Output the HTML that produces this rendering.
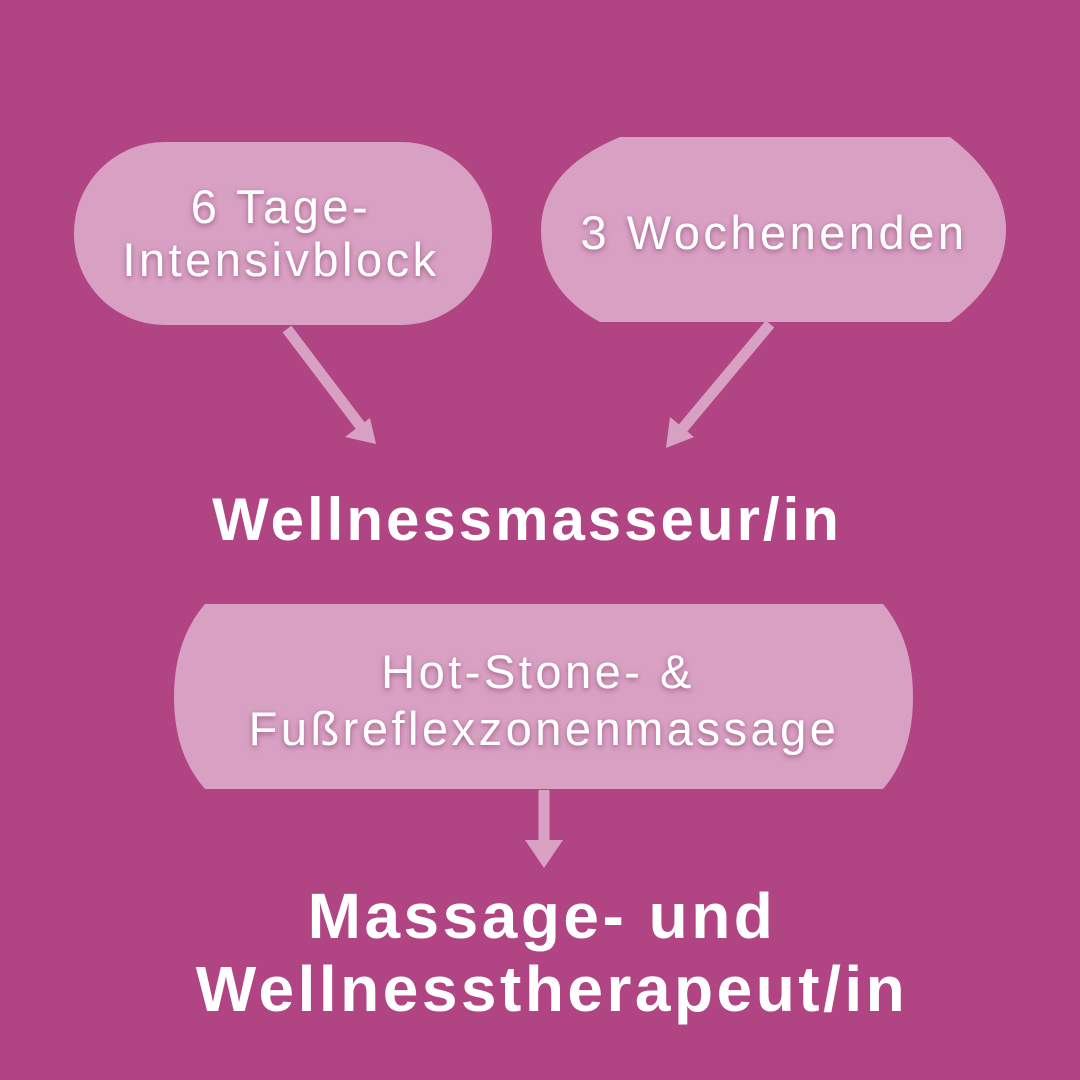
<!DOCTYPE html>
<html><head><meta charset="utf-8"><style>
html,body{margin:0;padding:0;width:1080px;height:1080px;overflow:hidden;background:#b14584}
svg{display:block}
text{font-family:"Liberation Sans",sans-serif;fill:#fff}
.n{font-size:47px;letter-spacing:3.5px;filter:url(#sh)}
.b{font-size:60px;font-weight:bold;letter-spacing:3px}
.c{font-size:64px;font-weight:bold;letter-spacing:3.5px}
</style></head><body>
<svg width="1080" height="1080" viewBox="0 0 1080 1080">
<defs>
<filter id="sh" x="-10%" y="-30%" width="120%" height="160%"><feDropShadow dx="0" dy="2" stdDeviation="3" flood-color="#7a2a5a" flood-opacity="0.6"/></filter>
</defs>
<rect width="1080" height="1080" fill="#b14584"/>
<g fill="#d8a1c3">
<rect x="74" y="142" width="418" height="183" rx="91" ry="91"/>
<path d="M620 137 H950 Q1006 180 1006 230 Q1006 280 950 322 H600 Q541 290 541 230 Q541 170 620 137Z"/>
<path d="M205 604 H883 Q913 640 913 697 Q913 754 883 789 H205 Q174 754 174 697 Q174 640 205 604Z"/>
</g>
<g stroke="#d8a1c3" stroke-width="11" fill="none">
<line x1="287" y1="329" x2="362" y2="428"/>
<line x1="770" y1="324" x2="678" y2="434"/>
<line x1="544" y1="790" x2="544" y2="850"/>
</g>
<g fill="#d8a1c3">
<polygon points="376,444 345,437 370,418"/>
<polygon points="666,448 670,417 694,437"/>
<polygon points="544,868 525,840 563,840"/>
</g>
<text class="n" x="281" y="223" text-anchor="middle">6 Tage-</text>
<text class="n" x="281" y="276" text-anchor="middle">Intensivblock</text>
<text class="n" x="774" y="249" text-anchor="middle">3 Wochenenden</text>
<text class="n" x="538" y="688" text-anchor="middle">Hot-Stone- &amp;</text>
<text class="n" x="544" y="745" text-anchor="middle">Fußreflexzonenmassage</text>
<text class="b" x="527" y="540" text-anchor="middle">Wellnessmasseur/in</text>
<text class="c" x="542" y="938" text-anchor="middle">Massage- und</text>
<text class="c" x="552" y="1011" text-anchor="middle">Wellnesstherapeut/in</text>
</svg>
</body></html>
